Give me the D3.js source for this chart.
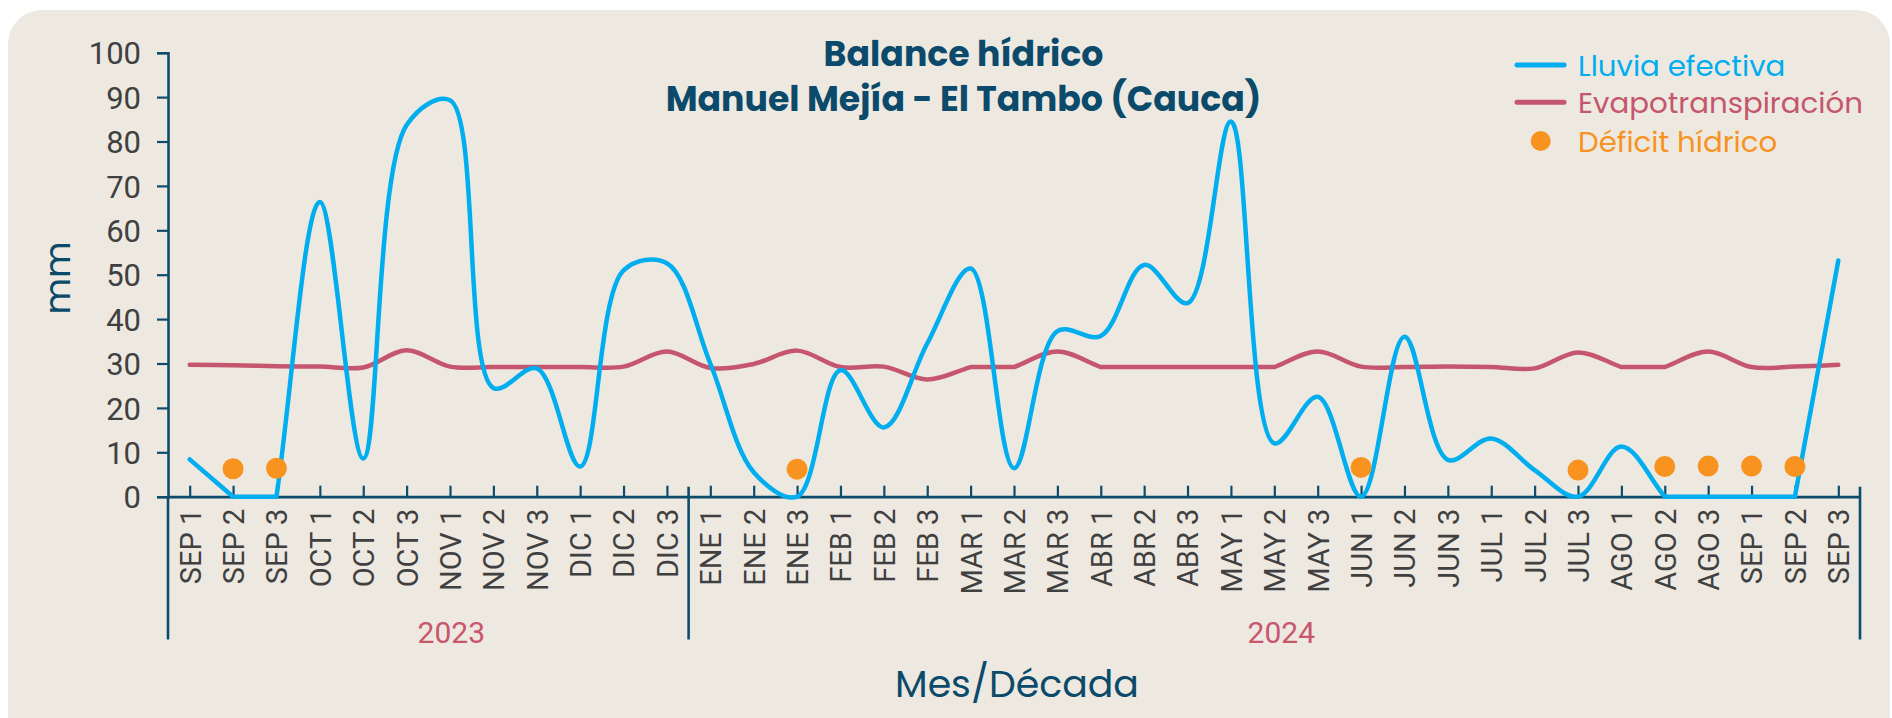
<!DOCTYPE html>
<html>
<head>
<meta charset="utf-8">
<script src="https://cdn.jsdelivr.net/npm/d3@7"></script>
<style>
  html, body { margin: 0; padding: 0; background: #ffffff; }
  svg { display: block; }
</style>
</head>
<body>
<svg id="chart" width="1892" height="718"></svg>
<script>
// ---------------- DATA ----------------
const categories = ["SEP 1","SEP 2","SEP 3","OCT 1","OCT 2","OCT 3","NOV 1","NOV 2","NOV 3","DIC 1","DIC 2","DIC 3",
  "ENE 1","ENE 2","ENE 3","FEB 1","FEB 2","FEB 3","MAR 1","MAR 2","MAR 3","ABR 1","ABR 2","ABR 3",
  "MAY 1","MAY 2","MAY 3","JUN 1","JUN 2","JUN 3","JUL 1","JUL 2","JUL 3","AGO 1","AGO 2","AGO 3",
  "SEP 1","SEP 2","SEP 3"];
const years = ["2023", "2024"];
const yearSizes = [12, 27];
const lluviaEfectiva = [8.4, 0, 0, 66.4, 8.6, 83.7, 89.3, 24.5, 28.9, 6.8, 51.0, 52.6,
  30.0, 5.5, 0, 28.5, 15.6, 34.5, 51.4, 6.4, 37.3, 36.2, 52.2, 43.6,
  84.5, 12.0, 22.5, 0, 36.0, 8.3, 13.1, 6.0, 0, 11.3, 0, 0,
  0, 0, 53.2];
const evapotranspiracion = [29.7, 29.6, 29.4, 29.3, 29.1, 33.0, 29.3, 29.2, 29.2, 29.2, 29.3, 32.7,
  29.0, 29.9, 32.9, 29.2, 29.3, 26.4, 29.2, 29.2, 32.7, 29.2, 29.2, 29.2,
  29.2, 29.2, 32.7, 29.3, 29.2, 29.3, 29.2, 28.9, 32.5, 29.2, 29.2, 32.7,
  29.2, 29.3, 29.7];
const deficitHidrico = [null, 6.3, 6.4, null, null, null, null, null, null, null, null, null,
  null, null, 6.2, null, null, null, null, null, null, null, null, null,
  null, null, null, 6.6, null, null, null, null, 6.0, null, 6.8, 6.9,
  6.9, 6.8, null];
const yTicks = [0, 10, 20, 30, 40, 50, 60, 70, 80, 90, 100];
const seriesNames = ["Lluvia efectiva", "Evapotranspiración", "Déficit hídrico"];

// ---------------- STYLE ----------------
const C_BLUE = "#00AEEF", C_RED = "#C5566D", C_ORANGE = "#F7931E";
const C_AXIS = "#0E4C6C", C_TITLE = "#0B4A6A", C_TEXT = "#404040", C_YEAR = "#C9566C";
const FONT = "'Poppins', 'Noto Sans', 'Open Sans', sans-serif";
const FONT_NUM = "Roboto, 'Noto Sans', sans-serif";

// Smoothed curve (centripetal Catmull-Rom Bezier; flat segments kept straight)
function smoothCurve(context) {
  let pts = [];
  const flat = (a, b) => a && b && Math.abs(a[1] - b[1]) < 0.01;
  return {
    areaStart() {}, areaEnd() {},
    lineStart() { pts = []; },
    point(px, py) { pts.push([+px, +py]); },
    lineEnd() {
      const n = pts.length;
      if (!n) return;
      context.moveTo(pts[0][0], pts[0][1]);
      const alpha = 0.5, eps = 1e-9;
      for (let i = 0; i < n - 1; i++) {
        const p0 = pts[i - 1] || pts[i], p1 = pts[i], p2 = pts[i + 1], p3 = pts[i + 2] || pts[i + 1];
        const d01 = Math.hypot(p1[0] - p0[0], p1[1] - p0[1]);
        const d12 = Math.hypot(p2[0] - p1[0], p2[1] - p1[1]);
        const d23 = Math.hypot(p3[0] - p2[0], p3[1] - p2[1]);
        const l01a = Math.pow(d01, alpha), l01_2a = Math.pow(d01, 2 * alpha);
        const l12a = Math.pow(d12, alpha), l12_2a = Math.pow(d12, 2 * alpha);
        const l23a = Math.pow(d23, alpha), l23_2a = Math.pow(d23, 2 * alpha);
        let c1 = p1.slice(), c2 = p2.slice();
        if (l01a > eps) {
          const a = 2 * l01_2a + 3 * l01a * l12a + l12_2a, nn = 3 * l01a * (l01a + l12a);
          c1 = [(p1[0] * a - p0[0] * l12_2a + p2[0] * l01_2a) / nn,
                (p1[1] * a - p0[1] * l12_2a + p2[1] * l01_2a) / nn];
        }
        if (l23a > eps) {
          const b = 2 * l23_2a + 3 * l23a * l12a + l12_2a, m = 3 * l23a * (l23a + l12a);
          c2 = [(p2[0] * b + p1[0] * l23_2a - p3[0] * l12_2a) / m,
                (p2[1] * b + p1[1] * l23_2a - p3[1] * l12_2a) / m];
        }
        if (flat(p1, p2)) { c1[1] = p1[1]; c2[1] = p2[1]; }
        else {
          if (i > 0 && flat(pts[i - 1], p1)) c1 = [p1[0] + (p2[0] - p1[0]) / 3, p1[1] + (p2[1] - p1[1]) / 3];
          if (i + 2 < n && flat(p2, pts[i + 2])) c2 = [p2[0] + (p1[0] - p2[0]) / 3, p2[1] + (p1[1] - p2[1]) / 3];
        }
        context.bezierCurveTo(c1[0], c1[1], c2[0], c2[1], p2[0], p2[1]);
      }
    }
  };
}

const svg = d3.select("#chart");

// background panel
svg.append("rect").attr("x", 8).attr("y", 10).attr("width", 1882).attr("height", 760)
  .attr("rx", 34).attr("fill", "#EDE9E1");

const plotLeft = 168, plotRight = 1860, plotTop = 52.7, plotBottom = 496.7;
const x = d3.scalePoint().domain(d3.range(categories.length)).range([plotLeft, plotRight]).padding(0.5);
const step = x.step();
const y = d3.scaleLinear().domain([0, 100]).range([plotBottom, plotTop]);

// helper: fit font-size so that text has target width
function fitWidth(sel, target) {
  const w = sel.node().getComputedTextLength();
  const fs = parseFloat(sel.attr("font-size"));
  const nfs = w > 0 ? fs * target / w : fs;
  sel.attr("font-size", nfs);
  return nfs;
}

// Y axis
const yAxis = svg.append("g").attr("transform", `translate(${plotLeft},0)`)
  .call(d3.axisLeft(y).tickValues(yTicks).tickSize(11).tickPadding(16));
yAxis.select(".domain").attr("stroke", C_AXIS).attr("stroke-width", 2.6);
yAxis.selectAll(".tick line").attr("stroke", C_AXIS).attr("stroke-width", 2.2);
yAxis.selectAll(".tick text").attr("fill", C_TEXT).attr("font-family", FONT_NUM)
  .attr("font-size", 31).attr("dy", "0.36em");

// extension of y axis below x axis + group separators
const groupBounds = [0];
yearSizes.forEach(s => groupBounds.push(groupBounds[groupBounds.length - 1] + s));
svg.append("line").attr("x1", plotLeft).attr("x2", plotLeft).attr("y1", plotBottom).attr("y2", 639.5)
  .attr("stroke", C_AXIS).attr("stroke-width", 2.6);
groupBounds.slice(1).forEach(b => {
  const xx = plotLeft + b * step;
  svg.append("line").attr("x1", xx).attr("x2", xx).attr("y1", plotBottom - 10).attr("y2", 639.5)
    .attr("stroke", C_AXIS).attr("stroke-width", 2.6);
});

// X axis
const xAxis = svg.append("g").attr("transform", `translate(0,${plotBottom})`)
  .call(d3.axisBottom(x).tickSizeInner(-11).tickSizeOuter(0).tickFormat(i => categories[i]));
xAxis.select(".domain").attr("stroke", C_AXIS).attr("stroke-width", 2.8);
xAxis.selectAll(".tick line").attr("stroke", C_AXIS).attr("stroke-width", 2.2);
xAxis.selectAll(".tick text")
  .attr("transform", "rotate(-90)")
  .attr("text-anchor", "end")
  .attr("x", -12).attr("y", 0).attr("dy", "0.36em")
  .attr("fill", C_TEXT).attr("font-family", FONT_NUM).attr("font-size", 29);

// year labels
const yearOffsets = [23, 7];
years.forEach((yr, k) => {
  const a = groupBounds[k], b = groupBounds[k + 1] - 1;
  const cx = (x(a) + x(b)) / 2 + yearOffsets[k];
  svg.append("text").attr("x", cx).attr("y", 642.7).attr("text-anchor", "middle")
    .attr("font-family", FONT_NUM).attr("font-size", 30).attr("fill", C_YEAR).text(yr);
});

// axis titles
const yTitle = svg.append("text").attr("transform", "translate(70,278) rotate(-90)")
  .attr("text-anchor", "middle").attr("font-family", FONT).attr("font-size", 40)
  .attr("fill", C_TITLE).text("mm");
fitWidth(yTitle, 73);
const xTitle = svg.append("text").attr("x", 1017).attr("y", 697).attr("text-anchor", "middle")
  .attr("font-family", FONT).attr("font-size", 38).attr("fill", C_TITLE).text("Mes/Década");
fitWidth(xTitle, 244);

// chart title
const t2 = svg.append("text").attr("x", 963.5).attr("y", 111).attr("text-anchor", "middle")
  .attr("font-family", FONT).attr("font-weight", 700).attr("font-size", 32)
  .attr("fill", C_TITLE).text("Manuel Mejía - El Tambo (Cauca)");
const tfs = fitWidth(t2, 596);
svg.append("text").attr("x", 963.5).attr("y", 66).attr("text-anchor", "middle")
  .attr("font-family", FONT).attr("font-weight", 700).attr("font-size", tfs)
  .attr("fill", C_TITLE).text("Balance hídrico");

// series
const line = d3.line().x((d, i) => x(i)).y(d => y(d)).curve(smoothCurve);

svg.append("path").datum(evapotranspiracion).attr("d", line)
  .attr("fill", "none").attr("stroke", C_RED).attr("stroke-width", 4.5)
  .attr("stroke-linecap", "round").attr("stroke-linejoin", "round");
svg.append("path").datum(lluviaEfectiva).attr("d", line)
  .attr("fill", "none").attr("stroke", C_BLUE).attr("stroke-width", 4.5)
  .attr("stroke-linecap", "round").attr("stroke-linejoin", "round");

svg.append("g").selectAll("circle")
  .data(deficitHidrico.map((v, i) => ({ v, i })).filter(d => d.v !== null))
  .join("circle")
  .attr("cx", d => x(d.i)).attr("cy", d => y(d.v)).attr("r", 10.5)
  .attr("fill", C_ORANGE);

// legend
const legendColors = [C_BLUE, C_RED, C_ORANGE];
const legendY = [65, 102.3, 141];
const lg = svg.append("g");
const probe = lg.append("text").attr("font-family", FONT).attr("font-size", 28).text(seriesNames[1]);
const legendFs = fitWidth(probe, 285);
probe.remove();
seriesNames.forEach((name, k) => {
  if (k < 2) {
    lg.append("line").attr("x1", 1517).attr("x2", 1564).attr("y1", legendY[k]).attr("y2", legendY[k])
      .attr("stroke", legendColors[k]).attr("stroke-width", 5).attr("stroke-linecap", "round");
  } else {
    lg.append("circle").attr("cx", 1540.7).attr("cy", legendY[k]).attr("r", 10).attr("fill", legendColors[k]);
  }
  lg.append("text").attr("x", 1578).attr("y", legendY[k]).attr("dy", "0.36em")
    .attr("font-family", FONT).attr("font-size", legendFs).attr("fill", legendColors[k]).text(name);
});
</script>
</body>
</html>
